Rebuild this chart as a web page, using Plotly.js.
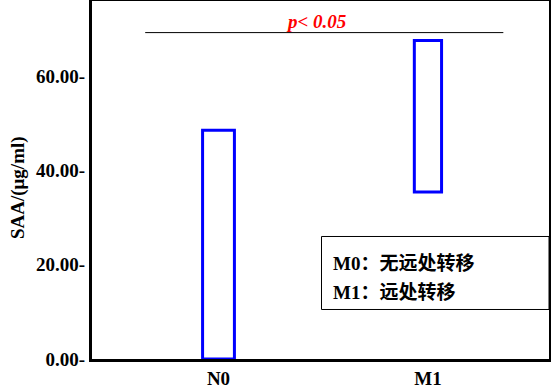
<!DOCTYPE html>
<html>
<head>
<meta charset="utf-8">
<script src="https://cdn.plot.ly/plotly-3.0.1.min.js"></script>
<style>html,body{margin:0;padding:0;background:#fff;}#chart{width:551px;height:391px;}</style>
</head>
<body>
<div id="chart"></div>
<script>
// Data
var categories = ['N0', 'M1'];
var lows = [0, 35.4];
var highs = [48.5, 67.5];
var tickValues = [0, 20, 40, 60];
var tickLabels = ['0.00', '20.00', '40.00', '60.00'];
var yTitle = 'SAA/(μg/ml)';
var pText = 'p&lt; 0.05';
var pLineValue = 69.2;
var legendLines = ['M0：无远处转移', 'M1：远处转移'];

var spans = highs.map(function (h, i) { return h - lows[i]; });
var tickText = tickLabels.map(function (t) { return t + '-'; });

var serif = 'Liberation Serif, Times New Roman, Noto Sans CJK SC, serif';

var trace = {
  type: 'bar',
  x: categories,
  y: spans,
  base: lows,
  width: [0.152, 0.13],
  marker: { color: 'rgba(255,255,255,0)', line: { color: '#0000FF', width: 3 } },
  hoverinfo: 'none'
};

var layout = {
  width: 551,
  height: 391,
  margin: { l: 92, r: 2, t: 1, b: 32, pad: 0 },
  paper_bgcolor: '#fff',
  plot_bgcolor: '#fff',
  showlegend: false,
  xaxis: {
    type: 'category',
    range: [-0.604, 1.578],
    showline: true, mirror: true, linecolor: '#000', linewidth: 3,
    showgrid: false, zeroline: false, ticks: '',
    tickfont: { family: serif, size: 19, color: '#000', weight: 'bold' }
  },
  yaxis: {
    range: [0, 75.9],
    tickmode: 'array',
    tickvals: tickValues,
    ticktext: tickText,
    ticks: '',
    showline: true, mirror: true, linecolor: '#000', linewidth: 3,
    showgrid: false, zeroline: false,
    tickfont: { family: serif, size: 19, color: '#000', weight: 'bold' }
  },
  shapes: [
    { type: 'line', xref: 'x', yref: 'y', x0: -0.35, x1: 1.36, y0: pLineValue, y1: pLineValue,
      line: { color: '#000', width: 1 } },
    { type: 'rect', xref: 'paper', yref: 'paper', x0: 0.50219, x1: 1.0, y0: 0.13827, y1: 0.34218,
      line: { color: '#000', width: 1 }, fillcolor: 'rgba(0,0,0,0)' }
  ],
  annotations: [
    { xref: 'paper', yref: 'paper', x: -0.163, y: 0.479, xanchor: 'center', yanchor: 'middle',
      textangle: -90, showarrow: false, text: '<b>' + yTitle + '</b>',
      font: { family: serif, size: 19, color: '#000' } },
    { xref: 'x', yref: 'y', x: 0.468, y: pLineValue, xanchor: 'center', yanchor: 'bottom', yshift: -1,
      showarrow: false, text: '<b><i>' + pText + '</i></b>',
      font: { family: serif, size: 19, color: '#FF0000' } },
    { xref: 'paper', yref: 'paper', x: 0.523, y: 0.268, xanchor: 'left', yanchor: 'middle',
      showarrow: false, text: '<b>' + legendLines[0] + '</b>',
      font: { family: serif, size: 19, color: '#000' } },
    { xref: 'paper', yref: 'paper', x: 0.523, y: 0.185, xanchor: 'left', yanchor: 'middle',
      showarrow: false, text: '<b>' + legendLines[1] + '</b>',
      font: { family: serif, size: 19, color: '#000' } }
  ]
};

Plotly.newPlot('chart', [trace], layout, { staticPlot: true, displayModeBar: false });
</script>
</body>
</html>
